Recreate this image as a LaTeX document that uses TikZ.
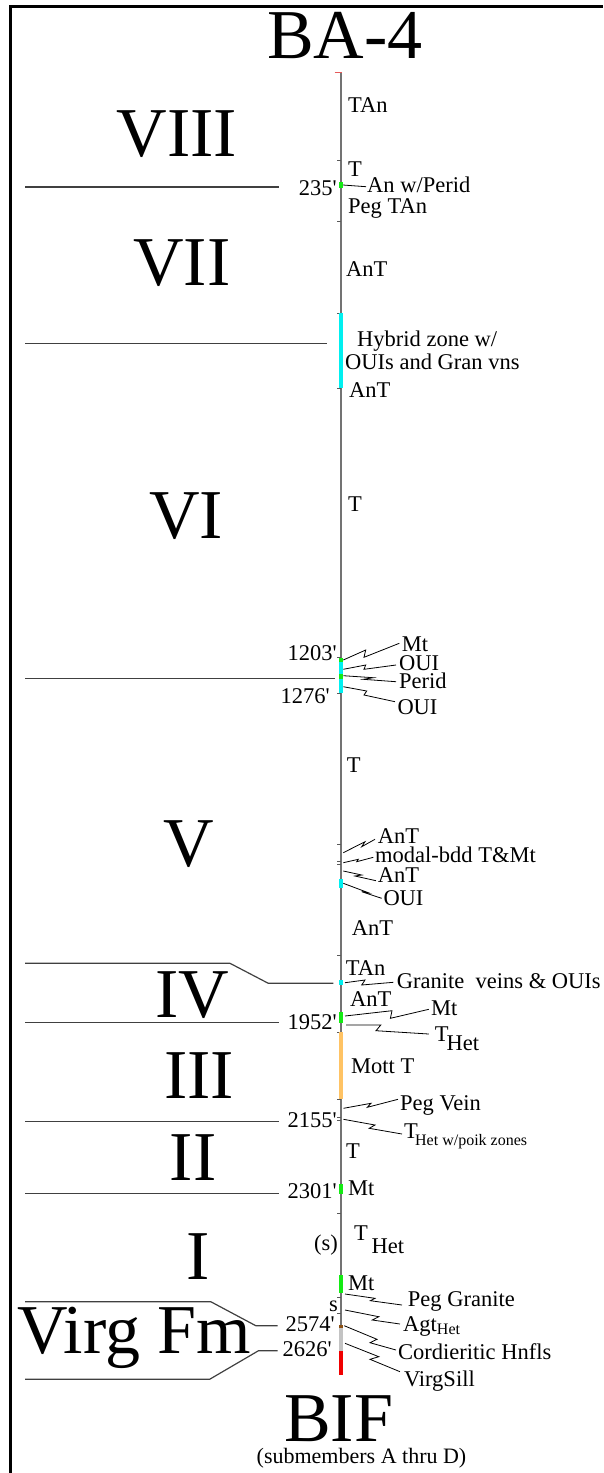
\documentclass[tikz,border=0pt]{standalone}
\usepackage{fontspec}
\setmainfont{Liberation Serif}
\usetikzlibrary{calc}
\newcommand\lblf{\fontsize{22.5}{24}\selectfont}
\newcommand\bigf{\fontsize{70}{72}\selectfont}
\newcommand\subf{\fontsize{16}{18}\selectfont}
\newcommand\smallf{\fontsize{22}{24}\selectfont}
\newcommand\ft{\textquotesingle}
\definecolor{mtgreen}{RGB}{20,235,20}
\definecolor{ouicyan}{RGB}{0,240,240}
\definecolor{mottorange}{RGB}{255,195,100}
\definecolor{agtbrown}{RGB}{140,80,20}
\definecolor{hnflgray}{RGB}{195,195,195}
\definecolor{sillred}{RGB}{240,0,0}
\definecolor{topred}{RGB}{230,90,90}
\begin{document}
\begin{tikzpicture}[x=1pt,y=-1pt,
  lbl/.style={anchor=base west,inner sep=0pt,font=\lblf},
  dep/.style={anchor=base east,inner sep=0pt,font=\lblf},
  numeral/.style={anchor=base,inner sep=0pt,font=\bigf},
  leader/.style={draw=black,line width=0.8pt},
  divline/.style={draw=black!75,line width=1.2pt},
  tickmark/.style={draw=black!65,line width=0.9pt},
  framel/.style={draw=black,line width=3pt},
  axis/.style={draw=black!55,line width=1.5pt}]
\useasboundingbox (0,0) rectangle (603,1473);
% frame
\draw[framel] (10.5,5) -- (10.5,1473);
\draw[framel] (9,6.5) -- (603,6.5);
% title
\node[numeral] (title) at (345,58) {BA-4};
% axis
\coordinate (axtop) at (341,73);
\coordinate (axbot) at (341,1351);
\draw[axis] (axtop) -- (axbot);
\draw[draw=topred,line width=1.2pt] (334.6,72.7) -- (342,72.7);
% ticks
\foreach \yy in {160,221,313,388,657,693,844.3,861.7,864.5,955,1032,1099,1117.7,1120.7,1213.3,1297.3,1313}
  \draw[tickmark] (337,\yy) -- (341,\yy);
% colored bars
\fill[mtgreen] (338.5,181.7) rectangle (342.5,188.3);
\fill[ouicyan] (338.5,313) rectangle (342.5,388);
\fill[ouicyan] (338.5,661) rectangle (342.5,693);
\fill[mtgreen] (338.5,657.7) rectangle (342.5,661.7);
\fill[mtgreen] (338.5,674.3) rectangle (342.5,679.3);
\fill[ouicyan] (338.5,879.3) rectangle (342.5,888.3);
\fill[ouicyan] (338.5,980) rectangle (342.5,985);
\fill[mtgreen] (338.5,1011.7) rectangle (342.5,1023);
\fill[mottorange] (338.5,1032) rectangle (342.5,1099);
\fill[mtgreen] (338.5,1184) rectangle (342.5,1194);
\fill[mtgreen] (338.5,1275) rectangle (342.5,1292.7);
\fill[agtbrown] (338.5,1325) rectangle (342.5,1328.3);
\fill[hnflgray] (338.5,1328.3) rectangle (342.5,1351);
\fill[sillred] (338.5,1351) rectangle (342.5,1375);
% roman numerals
\node[numeral] (n8) at (177,156.7) {VIII};
\node[numeral] (n7) at (182,285) {VII};
\node[numeral] (n6) at (186,538) {VI};
\node[numeral] (n5) at (189,866.7) {V};
\node[numeral] (n4) at (192,1017) {IV};
\node[numeral] (n3) at (199,1098) {III};
\node[numeral] (n2) at (193,1180.5) {II};
\node[numeral] (n1) at (198,1279) {I};
\node[anchor=base west,inner sep=0pt,font=\bigf] (virg) at (17,1353) {Virg Fm};
\node[numeral] (bif) at (338.5,1441.7) {BIF};
\node[anchor=base,inner sep=0pt,font=\smallf] (subm) at (361.5,1463) {(submembers A thru D)};
% division lines
\draw[divline] (25,187) -- (278.8,187);
\draw[divline] (25,343.3) -- (327,343.3);
\draw[divline] (25,678.7) -- (335,678.7);
\draw[divline] (25,963.3) -- (230,963.3) -- (268.3,983.3) -- (333.3,983.3);
\draw[divline] (25,1022.7) -- (279,1022.7);
\draw[divline] (25,1121.7) -- (279,1121.7);
\draw[divline] (25,1193.3) -- (278.8,1193.3);
\draw[divline] (25,1301.7) -- (210.8,1301.7) -- (255.8,1325.7) -- (277.7,1325.7);
\draw[divline] (277.7,1350.7) -- (258.5,1350.7) -- (209.6,1379.3) -- (25,1379.3);
% depth labels
\node[dep] (d235) at (337,195) {235\ft};
\node[dep] (d1203) at (337,660.7) {1203\ft};
\node[dep] (d1276) at (330,703.3) {1276\ft};
\node[dep] (d1952) at (337,1029) {1952\ft};
\node[dep] (d2155) at (337,1127) {2155\ft};
\node[dep] (d2301) at (337,1198) {2301\ft};
\node[dep] (d2574) at (335,1331.7) {2574\ft};
\node[dep] (d2626) at (332,1356.7) {2626\ft};
% lithology labels
\node[lbl] (l1) at (348,112.7) {TAn};
\node[lbl] (l2) at (348,176.7) {T};
\node[lbl] (l3) at (367,192.7) {An w/Perid};
\node[lbl] (l4) at (348,213.3) {Peg TAn};
\node[lbl] (l5) at (346,276.7) {AnT};
\node[lbl] (l6) at (357,346.7) {Hybrid zone w/};
\node[lbl] (l7) at (345,369.3) {OUIs and Gran vns};
\node[lbl] (l8) at (349,397.7) {AnT};
\node[lbl] (l9) at (348,511) {T};
\node[lbl] (l10) at (401.7,651.7) {Mt};
\node[lbl] (l11) at (399,670.5) {OUI};
\node[lbl] (l12) at (399,688.8) {Perid};
\node[lbl] (l13) at (397.3,714) {OUI};
\node[lbl] (l14) at (346.7,772.7) {T};
\node[lbl] (l15) at (377.7,843.3) {AnT};
\node[lbl] (l16) at (375,862.7) {modal-bdd T\&Mt};
\node[lbl] (l17) at (377.7,882.7) {AnT};
\node[lbl] (l18) at (383.3,905) {OUI};
\node[lbl] (l19) at (351.7,935) {AnT};
\node[lbl] (l20) at (345.7,975) {TAn};
\node[lbl] (l21) at (396.7,988.3) {Granite\ \ veins \& OUIs};
\node[lbl] (l22) at (350,1006.7) {AnT};
\node[lbl] (l23) at (431,1015) {Mt};
\node[lbl] (l24) at (434.6,1041.7) {T\kern-2pt\raisebox{-8.3pt}{Het}};
\node[lbl] (l25) at (351,1073) {Mott T};
\node[lbl] (l26) at (400,1110) {Peg Vein};
\node[lbl] (l27) at (404,1138.3) {T\kern-2.8pt\raisebox{-6.7pt}{\subf Het w/poik zones}};
\node[lbl] (l28) at (346,1158) {T};
\node[lbl] (l29) at (348,1195) {Mt};
\node[dep] (l30) at (338,1250) {(s)};
\node[lbl] (l31) at (354,1240) {T\kern3.6pt\raisebox{-13.3pt}{Het}};
\node[lbl] (l32) at (348,1290) {Mt};
\node[lbl] (l33) at (407.7,1306.7) {Peg Granite};
\node[lbl] (l34) at (328.8,1311.7) {s};
\node[lbl] (l35) at (403,1331.7) {Agt\raisebox{-2.3pt}{\subf Het}};
\node[lbl] (l36) at (398,1359) {Cordieritic Hnfls};
\node[lbl] (l37) at (403.8,1386.7) {VirgSill};
% leader start points on the axis
\coordinate (s3) at (343,185);
\coordinate (s10) at (343.3,660);
\coordinate (s11) at (343.3,669.3);
\coordinate (s12) at (343.3,675.7);
\coordinate (s13) at (343.3,686.7);
\coordinate (s15) at (343.3,852.7);
\coordinate (s16) at (343.3,862.7);
\coordinate (s17) at (343.3,871);
\coordinate (s18) at (343.3,883.3);
\coordinate (s21) at (345,982.7);
\coordinate (s23) at (345,1016);
\coordinate (s24) at (346,1025);
\coordinate (s26) at (343.5,1108.3);
\coordinate (s27) at (343.5,1119.3);
\coordinate (s33) at (345,1294);
\coordinate (s35) at (345,1310);
\coordinate (s36) at (344.2,1325.7);
\coordinate (s37) at (345,1343.3);
% leaders
\draw[leader] (s3) -- ($(l3.base west)+(-1,-6)$);
\draw[leader] (s10) -- (365.7,650) -- (364,657.3) -- ($(l10.base west)+(-2.4,-8.4)$);
\draw[leader] (s11) -- (365.7,665) -- (364,669.3) -- ($(l11.base west)+(-3,-5.5)$);
\draw[leader] (s12) -- (373.3,677.7) -- (363.3,679.3) -- ($(l12.base west)+(-3,-7.1)$);
\draw[leader] (s13) -- (366.7,691) -- (364,695) -- ($(l13.base west)+(-2.3,-12.3)$);
\draw[leader] (s15) -- (365,841.7) -- (361.7,846.7) -- ($(l15.base west)+(-2.7,-4)$);
\draw[leader] (s16) -- (358.3,859.3) -- (356.7,861.7) -- ($(l16.base west)+(-1.7,-5.4)$);
\draw[leader] (s17) -- (361.7,875) -- (355,876) -- ($(l17.base west)+(-1.7,-2)$);
\draw[leader] (s18) -- (368.3,892.7) -- (361.7,891.7) -- ($(l18.base west)+(-1.6,-6.7)$);
\draw[leader] (s21) -- (365,980) -- (361.7,985) -- ($(l21.base west)+(-3.4,-6)$);
\draw[leader] (s23) -- (392,1010.7) -- (390.4,1018.3) -- ($(l23.base west)+(-2.2,-5.7)$);
\draw[leader] (s24) -- (380.8,1025) -- (376,1030.7) -- ($(l24.base west)+(-5.8,-7.7)$);
\draw[leader] (s26) -- (371,1103.3) -- (367.3,1107.3) -- ($(l26.base west)+(-2,-10.7)$);
\draw[leader] (s27) -- (375,1125) -- (369.2,1128.3) -- ($(l27.base west)+(-2,-4.3)$);
\draw[leader] (s33) -- (375,1298.3) -- (370.4,1300.7) -- ($(l33.base west)+(-5.7,-1.7)$);
\draw[leader] (s35) -- (378.8,1316.7) -- (372.3,1320) -- ($(l35.base west)+(-3,-7.7)$);
\draw[leader] (s36) -- (377,1339.3) -- (370,1342.7) -- ($(l36.base west)+(-2,-9)$);
\draw[leader] (s37) -- (378.8,1356.7) -- (370,1359.3) -- ($(l37.base west)+(-3.8,-15)$);
\end{tikzpicture}
\end{document}
